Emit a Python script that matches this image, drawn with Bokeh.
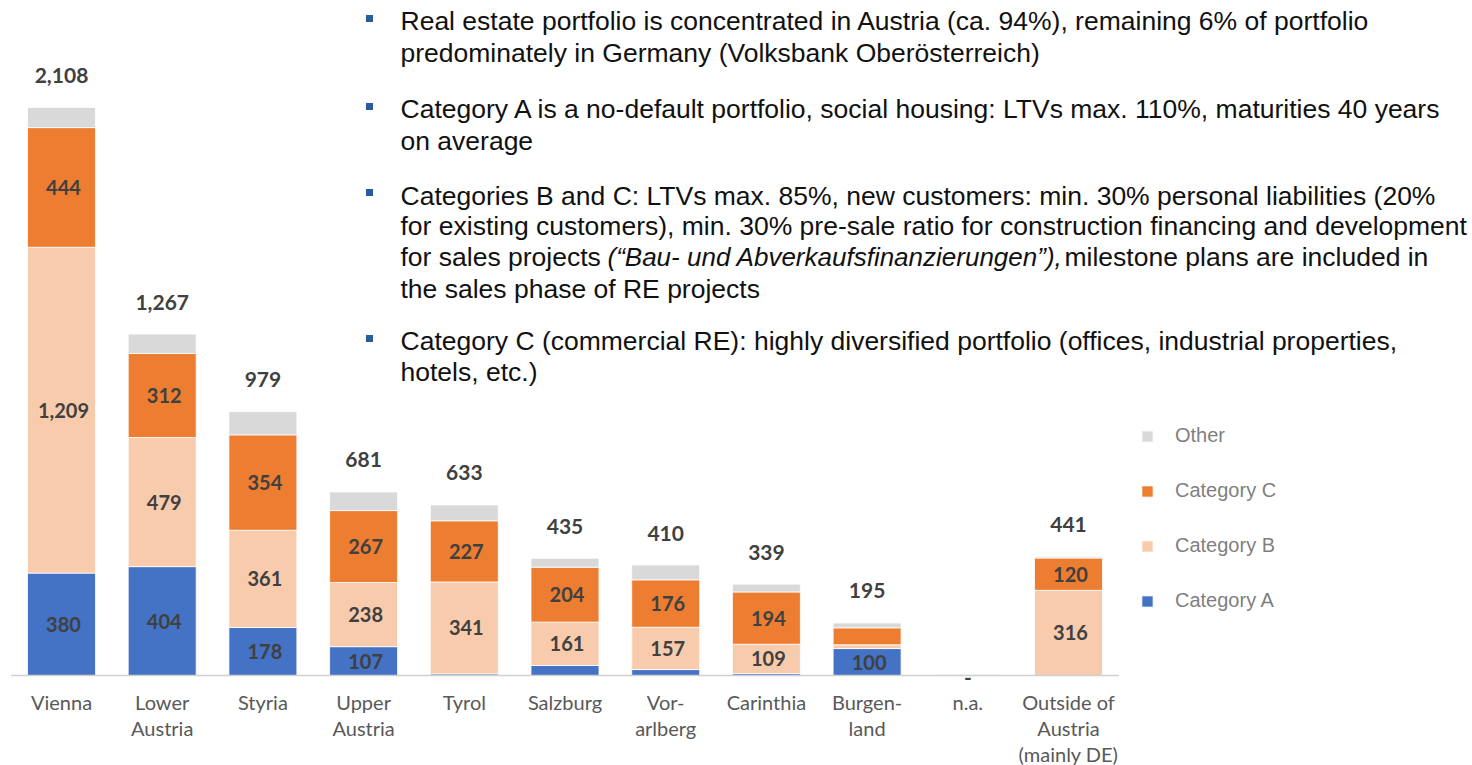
from bokeh.plotting import figure
from bokeh.models import ColumnDataSource, Range1d, Legend, LegendItem
from bokeh.core.properties import value
from bokeh.embed import file_html
from bokeh.resources import INLINE

# ---------------- data ----------------
categories = ["Vienna", "Lower\nAustria", "Styria", "Upper\nAustria", "Tyrol", "Salzburg",
              "Vor-\narlberg", "Carinthia", "Burgen-\nland", "n.a.", "Outside of\nAustria\n(mainly DE)"]
cat_a = [380, 404, 178, 107, 6, 37, 22, 7, 100, 0, 0]
cat_b = [1209, 479, 361, 238, 341, 161, 157, 109, 14, 0, 316]
cat_c = [444, 312, 354, 267, 227, 204, 176, 194, 63, 0, 120]
other = [75, 72, 86, 69, 59, 33, 55, 29, 18, 3, 5]
totals = [2108, 1267, 979, 681, 633, 435, 410, 339, 195, 0, 441]
total_labels = ["2,108", "1,267", "979", "681", "633", "435", "410", "339", "195", "-", "441"]

series_names = ["Category A", "Category B", "Category C", "Other"]
series_colors = ["#4472C4", "#F8CBAD", "#ED7D31", "#D9D9D9"]
label_min = 100

bullets = [
    ["Real estate portfolio is concentrated in Austria (ca. 94%), remaining 6% of portfolio",
     "predominately in Germany (Volksbank Oberösterreich)"],
    ["Category A is a no-default portfolio, social housing: LTVs max. 110%, maturities 40 years",
     "on average"],
    ["Categories B and C: LTVs max. 85%, new customers: min. 30% personal liabilities (20%",
     "for existing customers), min. 30% pre-sale ratio for construction financing and development",
     None,
     "the sales phase of RE projects"],
    ["Category C (commercial RE): highly diversified portfolio (offices, industrial properties,",
     "hotels, etc.)"],
]
mixed_line = ["for sales projects", "(“Bau- und Abverkaufsfinanzierungen”),", "milestone plans are included in"]

# ---------------- layout helpers ----------------
W, H = 1472, 765
X0 = -61 / 100.7
XU = 1 / 100.7
YU = 1 / 0.2695
BASE = 675  # page y of baseline


def px_x(px):
    return X0 + px * XU


def px_y(py):
    return (BASE - py) * YU


p = figure(width=W, height=H, output_backend="svg", toolbar_location=None,
           x_range=Range1d(X0, X0 + W * XU), y_range=Range1d(px_y(H), px_y(0)),
           x_axis_location=None, y_axis_location=None, min_border=0, outline_line_color=None)
p.grid.visible = False

xs = list(range(len(categories)))
src = ColumnDataSource(dict(x=xs, a=cat_a, b=cat_b, c=cat_c, o=other))
rs = p.vbar_stack(["a", "b", "c", "o"], x="x", width=0.675, source=src,
                  color=series_colors, line_color="white", line_width=0.8)

# axis line
p.segment(x0=[-0.5], x1=[len(categories) - 0.5], y0=[0], y1=[0], line_color="#D0D0D0", line_width=1.5)

# segment labels
lx, ly, lt = [], [], []
for i in xs:
    bottom = 0
    for vals in (cat_a, cat_b, cat_c, other):
        v = vals[i]
        if v >= label_min:
            lx.append(i + 0.02)
            ly.append(bottom + v / 2)
            lt.append(f"{v:,}")
        bottom += v
p.text(x=lx, y=ly, text=lt, text_align="center", text_baseline="middle",
       text_font=value("Lato"), text_font_style="bold", text_font_size="20px", text_color="#404040")

# total labels
tx, ty, tt = [], [], []
for i in xs:
    top = cat_a[i] + cat_b[i] + cat_c[i] + other[i]
    tx.append(i)
    if totals[i] == 0:
        ty.append(-2 * YU)
    else:
        ty.append(top + 32 * YU)
    tt.append(total_labels[i])
p.text(x=tx, y=ty, text=tt, text_align="center", text_baseline="middle",
       text_font=value("Lato"), text_font_style="bold", text_font_size="21px", text_color="#404040")

# category labels
p.text(x=xs, y=[px_y(689)] * len(xs), text=categories, text_align="center", text_baseline="top",
       text_font=value("Lato"), text_font_size="20px", text_color="#595959", text_line_height=1.09)

# bullet text
line_y = [[20, 52], [108, 140], [195, 225, 256, 288], [340, 371]]
bul_y = [18, 106, 192, 338]
bx, byy, bt = [], [], []
for para, ys in zip(bullets, line_y):
    for t, yy in zip(para, ys):
        if t is not None:
            bx.append(px_x(400)); byy.append(px_y(yy)); bt.append(t)
p.text(x=bx, y=byy, text=bt, text_align="left", text_baseline="middle",
       text_font=value("Liberation Sans"), text_font_size="26.5px", text_color="#111111")
p.text(x=[px_x(400), px_x(1064)], y=[px_y(256)] * 2, text=[mixed_line[0], mixed_line[2]],
       text_align="left", text_baseline="middle",
       text_font=value("Liberation Sans"), text_font_size="26.5px", text_color="#111111")
p.text(x=[px_x(607)], y=[px_y(256)], text=[mixed_line[1]], text_align="left", text_baseline="middle",
       text_font=value("Liberation Sans"), text_font_style="italic", text_font_size="26px", text_color="#111111")
p.scatter(x=[px_x(369)] * 4, y=[px_y(v) for v in bul_y], marker="square", size=7,
          fill_color="#2A5B9F", line_color=None)

# legend
items = [LegendItem(label=series_names[k], renderers=[rs[k]]) for k in (3, 2, 1, 0)]
legend = Legend(items=items, location=(1140, 765 - 612), glyph_width=14, glyph_height=14,
                label_text_font="Liberation Sans", label_text_font_size="20px",
                label_text_color="#7F7F7F", spacing=32, padding=0, margin=0,
                label_standoff=21, border_line_color=None, background_fill_alpha=0)
p.add_layout(legend)

open("out.html", "w").write(file_html(p, INLINE))
